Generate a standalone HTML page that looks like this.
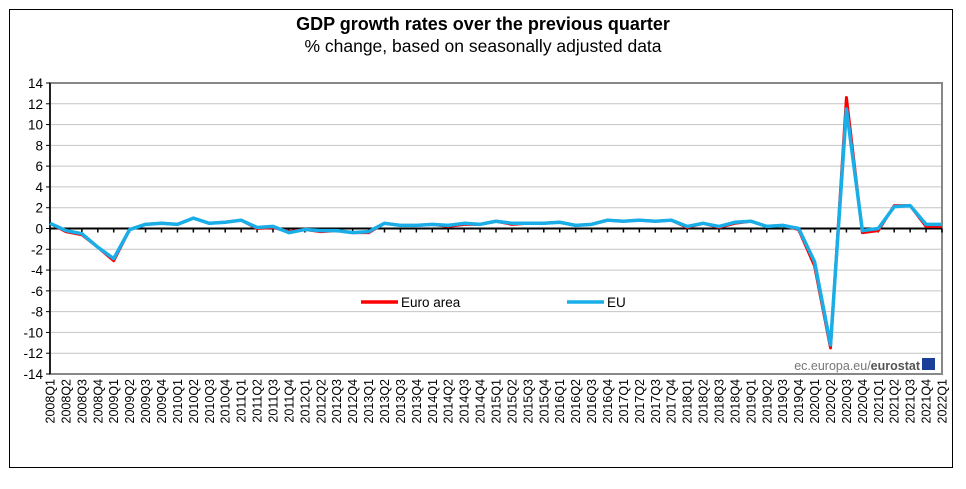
<!DOCTYPE html>
<html><head><meta charset="utf-8"><style>
body{margin:0;background:#fff;font-family:"Liberation Sans",Arial,sans-serif}
</style></head><body>
<svg id="chart" width="966" height="484" xmlns="http://www.w3.org/2000/svg" font-family="Liberation Sans, Arial, sans-serif">
<rect x="9.5" y="9.5" width="943" height="458" fill="#fff" stroke="#000" stroke-width="1"/>
<text x="483" y="30" text-anchor="middle" font-size="18" font-weight="bold">GDP growth rates over the previous quarter</text>
<text x="483" y="52" text-anchor="middle" font-size="17.5">% change, based on seasonally adjusted data</text>
<g id="grid"></g><g id="yticks"></g><g id="xticks"></g><g id="lines"></g>
<g>
<line x1="361" y1="302" x2="398" y2="302" stroke="#f00" stroke-width="3.5"/>
<text x="401" y="307" font-size="13.5">Euro area</text>
<line x1="567" y1="302" x2="604" y2="302" stroke="#19aee8" stroke-width="3.5"/>
<text x="607" y="307" font-size="13.5">EU</text>
</g>
<g>
<text x="920" y="370" text-anchor="end" font-size="12.5" fill="#777">ec.europa.eu/<tspan font-weight="bold" fill="#555">eurostat</tspan></text>
<rect x="922" y="358" width="13" height="12" fill="#1a3f99"/>
</g>
</svg>
<script>
const quarters=[];for(let y=2008;y<=2022;y++)for(let q=1;q<=4;q++){if(y===2022&&q>1)break;quarters.push(y+'Q'+q);}
const euroArea=[0.5,-0.3,-0.6,-1.8,-3.1,-0.1,0.4,0.5,0.4,1.0,0.5,0.6,0.8,0.0,0.1,-0.3,-0.1,-0.3,-0.2,-0.4,-0.4,0.5,0.3,0.3,0.4,0.2,0.4,0.4,0.7,0.4,0.5,0.5,0.6,0.3,0.4,0.8,0.7,0.8,0.7,0.8,0.1,0.5,0.1,0.5,0.7,0.2,0.3,-0.1,-3.6,-11.5,12.6,-0.4,-0.2,2.2,2.2,0.2,0.2];
const eu=[0.5,-0.2,-0.5,-1.8,-2.9,-0.1,0.4,0.5,0.4,1.0,0.5,0.6,0.8,0.1,0.2,-0.4,-0.1,-0.2,-0.2,-0.4,-0.3,0.5,0.3,0.3,0.4,0.3,0.5,0.4,0.7,0.5,0.5,0.5,0.6,0.3,0.4,0.8,0.7,0.8,0.7,0.8,0.2,0.5,0.2,0.6,0.7,0.2,0.3,0.0,-3.2,-11.2,11.5,-0.2,0.0,2.1,2.2,0.4,0.4];
const yTicks=[14,12,10,8,6,4,2,0,-2,-4,-6,-8,-10,-12,-14];
const X0=50,X1=942,Y0=83,Y1=374,NS='http://www.w3.org/2000/svg';
const xs=i=>X0+i*(X1-X0)/(quarters.length-1);
const ys=v=>Y0+(14-v)*(Y1-Y0)/28;
function mk(t,a,p){const e=document.createElementNS(NS,t);for(const k in a)e.setAttribute(k,a[k]);p.appendChild(e);return e;}
const grid=document.getElementById('grid'),yt=document.getElementById('yticks'),xt=document.getElementById('xticks'),ln=document.getElementById('lines');
yTicks.forEach(v=>{
 if(v!==0&&v!==14&&v!==-14){const g=mk('line',{x1:X0,x2:X1,y1:ys(v),y2:ys(v),stroke:'#c4c4c4','stroke-width':1},grid);
 
 }
 const tk=mk('line',{x1:X0-4,x2:X0,y1:ys(v),y2:ys(v),stroke:'#000'},yt);
 
 
 const t=mk('text',{x:X0-7,y:ys(v)+5,'text-anchor':'end','font-size':13.5},yt);t.textContent=v;
 
 
});
const pa=mk('rect',{x:X0,y:Y0,width:X1-X0,height:Y1-Y0,fill:'none',stroke:'#888','stroke-width':2},grid);


const ax=mk('line',{x1:X0,x2:X0,y1:Y0,y2:Y1,stroke:'#000','stroke-width':1.5},grid);


const z=mk('line',{x1:X0,x2:X1,y1:ys(0),y2:ys(0),stroke:'#000','stroke-width':2},grid);


quarters.forEach((q,i)=>{
 const tk=mk('line',{x1:xs(i),x2:xs(i),y1:ys(0),y2:ys(0)+4,stroke:'#000','stroke-width':1.5},xt);
 
 
 const t=mk('text',{x:0,y:0,'text-anchor':'end','font-size':12.5,transform:`translate(${xs(i)+4.5},${Y1+5}) rotate(-90)`},xt);t.textContent=q;
 
 
});
function series(vals,col,w,name){const p=mk('polyline',{points:vals.map((v,i)=>xs(i)+','+ys(v)).join(' '),fill:'none',stroke:col,'stroke-width':w,'stroke-linejoin':'round'},ln);
 
 }
series(euroArea,'#f00',3,'euro-area-line');
series(eu,'#19aee8',3.5,'eu-line');
</script>
</body></html>
